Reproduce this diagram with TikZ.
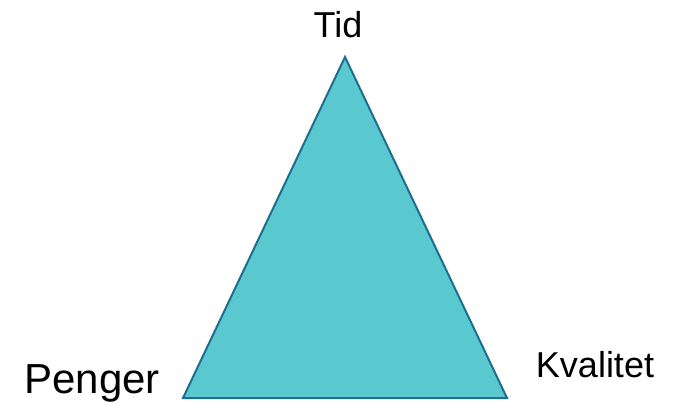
\documentclass[tikz,border=0pt]{standalone}
\usepackage{fontspec}
\setmainfont{Liberation Sans}
\definecolor{trifill}{HTML}{59C9CF}
\definecolor{triedge}{HTML}{1D6E90}
\begin{document}
\begin{tikzpicture}[x=1pt,y=-1pt,
  lbl/.style={anchor=base,inner sep=0pt,text=black}]
\useasboundingbox (0,0) rectangle (687,402);
\coordinate (top) at (345,57);
\coordinate (bl) at (183,398);
\coordinate (br) at (507,398);
\draw[fill=trifill,draw=triedge,line width=2pt,line join=miter] (top) -- (bl) -- (br) -- cycle;
\node[lbl,font=\fontsize{36}{40}\selectfont] (tid) at (338,37) {Tid};
\node[lbl,font=\fontsize{42}{46}\selectfont] (penger) at (92,393) {Penger};
\node[lbl,font=\fontsize{36}{40}\selectfont] (kvalitet) at (595,377) {Kvalitet};
\end{tikzpicture}
\end{document}
